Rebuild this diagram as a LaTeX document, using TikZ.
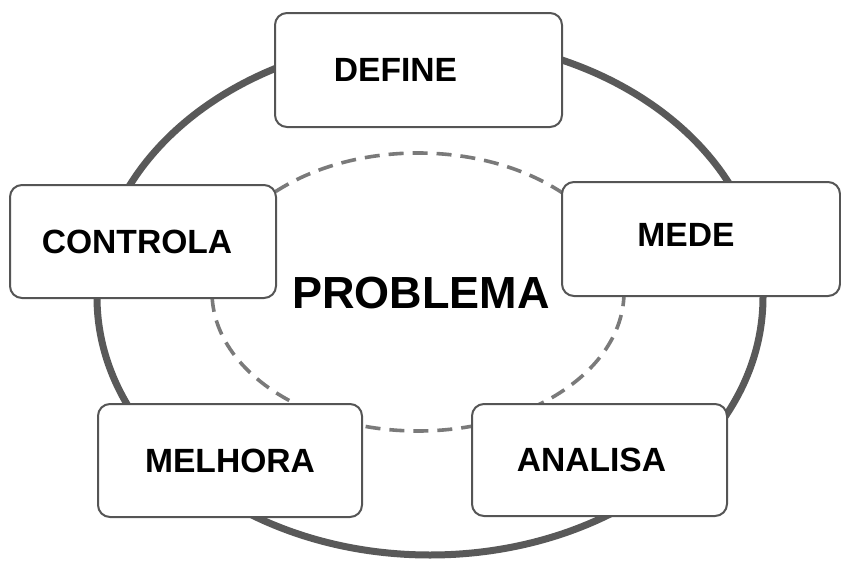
\documentclass[tikz,border=0pt]{standalone}
\usepackage{fontspec}
\setmainfont{Liberation Sans}
\definecolor{ringgray}{HTML}{595959}
\definecolor{dashgray}{HTML}{7A7A7A}
\definecolor{boxgray}{HTML}{555555}
\begin{document}
\begin{tikzpicture}[x=0.5pt,y=-0.5pt,
  stagebox/.style={draw=boxgray, line width=1pt, fill=white, rounded corners=6pt, inner sep=0pt},
  stagetext/.style={font=\bfseries\fontsize{16.8}{20}\selectfont, text=black}]
\useasboundingbox (0,0) rectangle (841,562);
\draw[ringgray, line width=3.5pt] (430,297) ellipse [x radius=166.5pt, y radius=129pt];
\draw[dashgray, line width=1.8pt, dash pattern=on 7.5pt off 4.5pt] (418,292) ellipse [x radius=103pt, y radius=69.5pt];
\node[stagebox, minimum width=143.5pt, minimum height=57pt,
  label={[stagetext, xshift=-11.5pt]center:DEFINE}] (define) at (418.5,70) {};
\node[stagebox, minimum width=139pt, minimum height=57pt,
  label={[stagetext, xshift=-7.5pt, yshift=2pt]center:MEDE}] (mede) at (701,239) {};
\node[stagebox, minimum width=133pt, minimum height=56.5pt,
  label={[stagetext, xshift=-3pt]center:CONTROLA}] (controla) at (143,241.5) {};
\node[stagebox, minimum width=132pt, minimum height=56.5pt,
  label={[stagetext]center:MELHORA}] (melhora) at (230,460.5) {};
\node[stagebox, minimum width=127.5pt, minimum height=56pt,
  label={[stagetext, xshift=-4pt]center:ANALISA}] (analisa) at (599.5,460) {};
\node[font=\bfseries\fontsize{22.5}{26}\selectfont] (problema) at (421,293) {PROBLEMA};
\end{tikzpicture}
\end{document}
